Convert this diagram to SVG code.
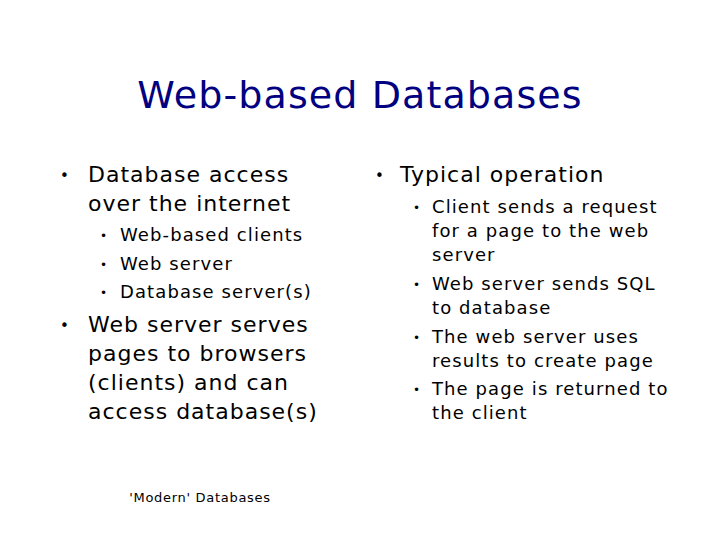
<svg xmlns="http://www.w3.org/2000/svg" width="720" height="540" viewBox="0 0 720 540">
<style>
text{font-family:"DejaVu Sans",Verdana,sans-serif;fill:#000}
.t{font-size:38px;fill:#000080;letter-spacing:1.1px}
.l1{font-size:22px;letter-spacing:1px}
.l2{font-size:18px;letter-spacing:1.1px}
.b1{font-size:15px}
.b2{font-size:12px}
.f{font-size:13px;letter-spacing:0.7px}
</style>
<rect width="720" height="540" fill="#fff"/>
<g id="title"><text class="t" x="360" y="108" text-anchor="middle">Web-based Databases</text></g>
<g id="left">
<text class="b1" x="60" y="181">•</text>
<text class="l1" x="88" y="182">Database access</text>
<text class="l1" x="88" y="211">over the internet</text>
<text class="b2" x="100" y="240">•</text><text class="l2" x="120" y="241">Web-based clients</text>
<text class="b2" x="100" y="269">•</text><text class="l2" x="120" y="270">Web server</text>
<text class="b2" x="100" y="297">•</text><text class="l2" x="120" y="298">Database server(s)</text>
<text class="b1" x="60" y="331">•</text>
<text class="l1" x="88" y="332">Web server serves</text>
<text class="l1" x="88" y="361">pages to browsers</text>
<text class="l1" x="88" y="390">(clients) and can</text>
<text class="l1" x="88" y="419">access database(s)</text>
</g>
<g id="right">
<text class="b1" x="375" y="181">•</text>
<text class="l1" x="400" y="182">Typical operation</text>
<text class="b2" x="413" y="212">•</text><text class="l2" x="432" y="213">Client sends a request</text>
<text class="l2" x="432" y="237">for a page to the web</text>
<text class="l2" x="432" y="261">server</text>
<text class="b2" x="413" y="289">•</text><text class="l2" x="432" y="290">Web server sends SQL</text>
<text class="l2" x="432" y="314">to database</text>
<text class="b2" x="413" y="342">•</text><text class="l2" x="432" y="343">The web server uses</text>
<text class="l2" x="432" y="367">results to create page</text>
<text class="b2" x="413" y="394">•</text><text class="l2" x="432" y="395">The page is returned to</text>
<text class="l2" x="432" y="419">the client</text>
</g>
<g id="footer"><text class="f" x="200" y="502" text-anchor="middle">'Modern' Databases</text></g>
</svg>
